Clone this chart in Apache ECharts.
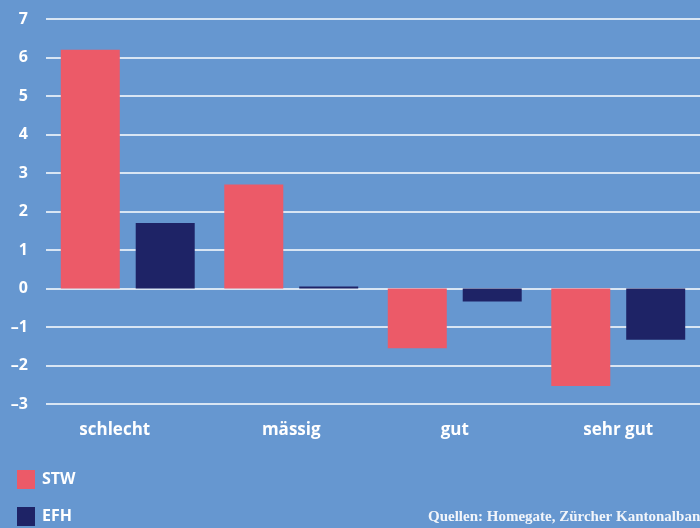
<!DOCTYPE html>
<html>
<head>
<meta charset="utf-8">
<script src="https://cdn.jsdelivr.net/npm/echarts@6/dist/echarts.min.js"></script>
<style>
  html, body { margin: 0; padding: 0; background: #6697D0; }
  #chart { width: 700px; height: 528px; }
</style>
</head>
<body>
<div id="chart"></div>
<script>
var categories = ['schlecht', 'mässig', 'gut', 'sehr gut']
var stw = [6.2, 2.7, -1.55, -2.53]
var efh = [1.7, 0.05, -0.34, -1.33]
var source = 'Quellen: Homegate, Zürcher Kantonalbank'

var myChart = echarts.init(document.getElementById('chart'))
var labelFont = '"Open Sans", "Noto Sans", sans-serif'
var option = {
  backgroundColor: '#6697D0',
  animation: false,
  grid: {
    left: 46,
    right: -4,
    top: 19,
    bottom: 124
  },
  legend: {
    orient: 'vertical',
    left: 17,
    top: 470,
    padding: 0,
    itemWidth: 18,
    itemHeight: 19,
    itemGap: 18,
    icon: 'rect',
    textStyle: {
      color: '#ffffff',
      fontWeight: 'bold',
      fontSize: 16,
      fontFamily: labelFont,
      padding: [0, 0, 0, 2]
    },
    data: ['STW', 'EFH']
  },
  graphic: [
    {
      type: 'text',
      left: 428,
      top: 510,
      style: {
        text: source,
        fill: '#f2f5fa',
        font: 'bold 15px "Liberation Serif", "DejaVu Serif", serif'
      }
    }
  ],
  xAxis: {
    type: 'category',
    data: categories,
    axisLine: { show: false },
    axisTick: { show: false },
    axisLabel: {
      interval: 0,
      color: '#ffffff',
      fontWeight: 'bold',
      fontSize: 17,
      fontFamily: labelFont,
      margin: 18,
      formatter: function (v, i) {
        // the first label sits a little left of its bars in the original
        return i === 0 ? '{first|' + v + '}' : v
      },
      rich: {
        first: {
          color: '#ffffff',
          fontWeight: 'bold',
          fontSize: 17,
          fontFamily: labelFont,
          padding: [0, 26, 0, 0]
        }
      }
    }
  },
  yAxis: {
    type: 'value',
    min: -3,
    max: 7,
    interval: 1,
    axisLine: { show: false },
    axisTick: { show: false },
    splitLine: {
      lineStyle: { color: '#ffffff', width: 1.5 }
    },
    axisLabel: {
      color: '#ffffff',
      fontWeight: 'bold',
      fontSize: 16,
      fontFamily: labelFont,
      margin: 18,
      formatter: function (v) {
        return String(v).replace('-', '–')
      }
    }
  },
  series: [
    {
      name: 'STW',
      type: 'bar',
      data: stw,
      barWidth: 59,
      barGap: '27%',
      itemStyle: { color: '#EC5A68' }
    },
    {
      name: 'EFH',
      type: 'bar',
      data: efh,
      barWidth: 59,
      itemStyle: { color: '#1E2366' }
    }
  ]
}
myChart.setOption(option)
</script>
</body>
</html>
